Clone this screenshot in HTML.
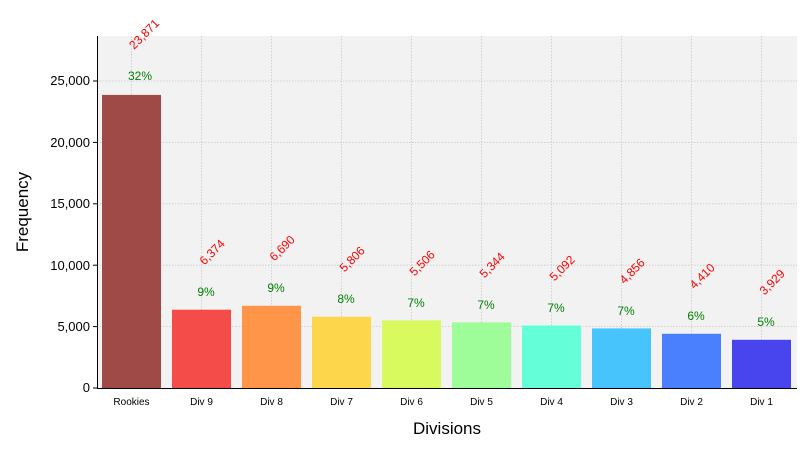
<!DOCTYPE html>
<html><head><meta charset="utf-8"><style>body{margin:0;background:#fff}svg{display:block;font-family:"Liberation Sans",sans-serif}</style></head><body>
<svg width="810" height="450" viewBox="0 0 810 450">
<rect x="97" y="36" width="700" height="352" fill="#f2f2f2"/>
<g stroke="#c8c8c8" stroke-dasharray="1.5,1.5" stroke-width="0.8">
<line x1="97" x2="797" y1="326.6" y2="326.6"/><line x1="97" x2="797" y1="265.2" y2="265.2"/><line x1="97" x2="797" y1="203.8" y2="203.8"/><line x1="97" x2="797" y1="142.4" y2="142.4"/><line x1="97" x2="797" y1="81" y2="81"/>
<line x1="131.5" x2="131.5" y1="36" y2="388"/><line x1="201.5" x2="201.5" y1="36" y2="388"/><line x1="271.5" x2="271.5" y1="36" y2="388"/><line x1="341.5" x2="341.5" y1="36" y2="388"/><line x1="411.5" x2="411.5" y1="36" y2="388"/><line x1="481.5" x2="481.5" y1="36" y2="388"/><line x1="551.5" x2="551.5" y1="36" y2="388"/><line x1="621.5" x2="621.5" y1="36" y2="388"/><line x1="691.5" x2="691.5" y1="36" y2="388"/><line x1="761.5" x2="761.5" y1="36" y2="388"/>
</g>
<g>
<rect x="102" y="94.9" width="59" height="293.1" fill="#a04a48"/>
<rect x="172" y="309.7" width="59" height="78.3" fill="#f44c48"/>
<rect x="242" y="305.8" width="59" height="82.2" fill="#fe9548"/>
<rect x="312" y="316.7" width="59" height="71.3" fill="#fed64c"/>
<rect x="382" y="320.4" width="59" height="67.6" fill="#d8fa5e"/>
<rect x="452" y="322.4" width="59" height="65.6" fill="#9efd98"/>
<rect x="522" y="325.5" width="59" height="62.5" fill="#64fed8"/>
<rect x="592" y="328.4" width="59" height="59.6" fill="#48c4fd"/>
<rect x="662" y="333.8" width="59" height="54.2" fill="#4a80fe"/>
<rect x="732" y="339.8" width="59" height="48.2" fill="#4844ee"/>
</g>
<g fill="#008000" font-size="12" text-anchor="middle">
<text x="140" y="80">32%</text><text x="206" y="296">9%</text><text x="276" y="292">9%</text><text x="346" y="303">8%</text><text x="416" y="307">7%</text><text x="486" y="309">7%</text><text x="556" y="312">7%</text><text x="626" y="315">7%</text><text x="696" y="320">6%</text><text x="766" y="326">5%</text>
</g>
<g fill="#ff0000" font-size="12" text-anchor="middle">
<text transform="translate(147,37) rotate(-45)">23,871</text>
<text transform="translate(215,255) rotate(-45)">6,374</text>
<text transform="translate(285,251) rotate(-45)">6,690</text>
<text transform="translate(355,262) rotate(-45)">5,806</text>
<text transform="translate(425,266) rotate(-45)">5,506</text>
<text transform="translate(495,268) rotate(-45)">5,344</text>
<text transform="translate(565,271) rotate(-45)">5,092</text>
<text transform="translate(635,274) rotate(-45)">4,856</text>
<text transform="translate(705,279) rotate(-45)">4,410</text>
<text transform="translate(775,285) rotate(-45)">3,929</text>
</g>
<line x1="97.5" y1="36" x2="97.5" y2="388" stroke="#000"/>
<line x1="97" y1="388.5" x2="797" y2="388.5" stroke="#000"/>
<g stroke="#000"><line x1="93" x2="97" y1="388" y2="388"/><line x1="93" x2="97" y1="326.6" y2="326.6"/><line x1="93" x2="97" y1="265.2" y2="265.2"/><line x1="93" x2="97" y1="203.8" y2="203.8"/><line x1="93" x2="97" y1="142.4" y2="142.4"/><line x1="93" x2="97" y1="81" y2="81"/></g>
<g font-size="13" text-anchor="end"><text x="90" y="392">0</text><text x="90" y="331">5,000</text><text x="90" y="270">10,000</text><text x="90" y="208">15,000</text><text x="90" y="147">20,000</text><text x="90" y="85">25,000</text></g>
<g font-size="10" text-anchor="middle"><text x="131.5" y="405">Rookies</text><text x="201.5" y="405">Div 9</text><text x="271.5" y="405">Div 8</text><text x="341.5" y="405">Div 7</text><text x="411.5" y="405">Div 6</text><text x="481.5" y="405">Div 5</text><text x="551.5" y="405">Div 4</text><text x="621.5" y="405">Div 3</text><text x="691.5" y="405">Div 2</text><text x="761.5" y="405">Div 1</text></g>
<text x="447" y="434" font-size="17" text-anchor="middle">Divisions</text>
<text transform="translate(28,212) rotate(-90)" font-size="17" text-anchor="middle">Frequency</text>
</svg></body></html>
